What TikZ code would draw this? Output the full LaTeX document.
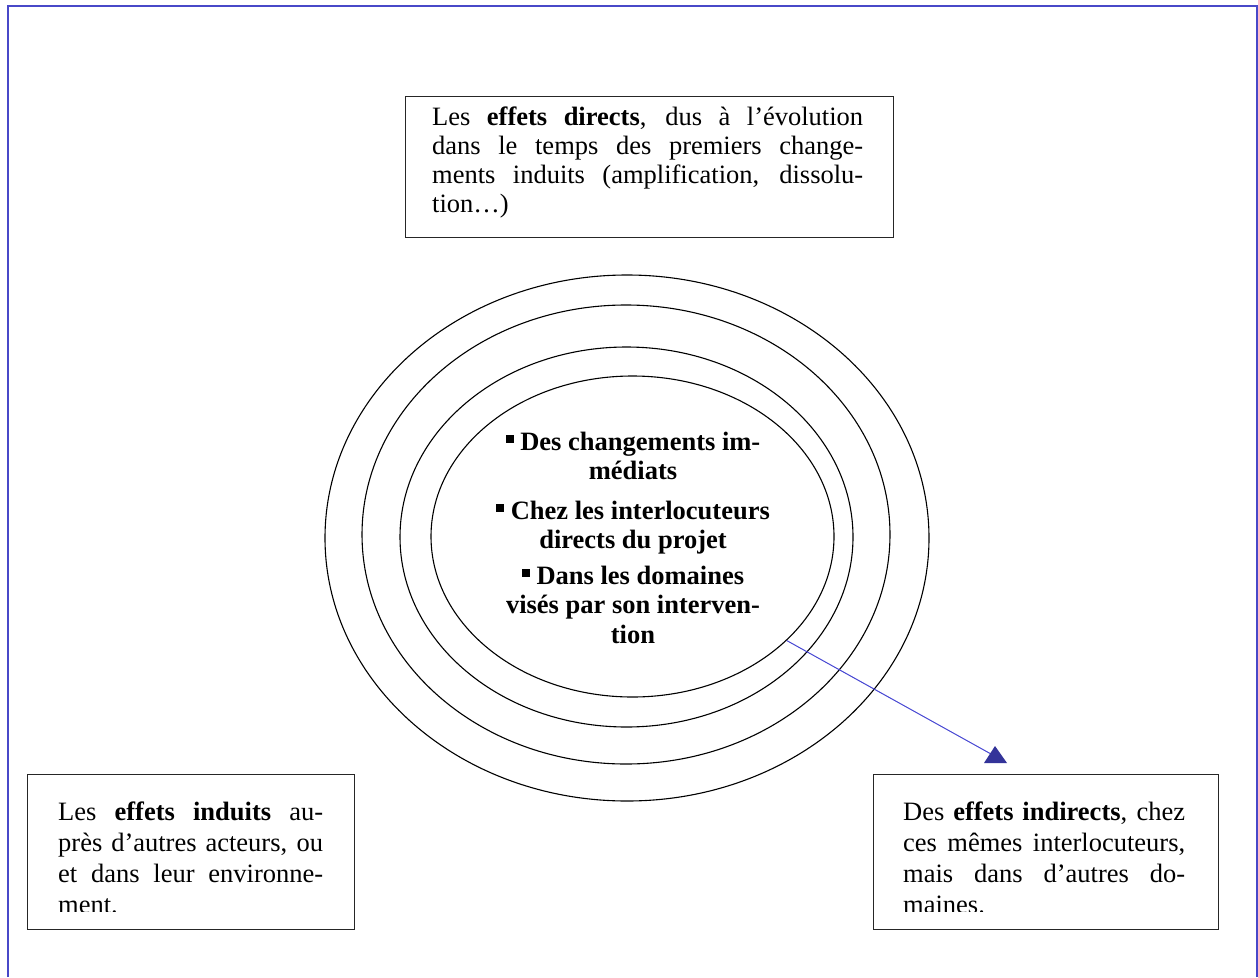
\documentclass[tikz,border=0pt]{standalone}
\usepackage{fontspec}
\setmainfont{Liberation Serif}
\usetikzlibrary{shapes.geometric,calc}
\definecolor{framecol}{RGB}{72,72,200}
\definecolor{arrowcol}{RGB}{51,51,153}
\definecolor{linecol}{RGB}{70,70,210}
\newcommand{\jline}[2]{\leavevmode\hbox to #1{\spaceskip=0pt\xspaceskip=0pt #2}\\}
\newcommand{\sqb}{\raisebox{7pt}{\rule{8pt}{8pt}}}
\begin{document}
\begin{tikzpicture}[x=1pt,y=1pt,
  ring/.style={ellipse,draw,line width=1.1pt,inner sep=0pt},
  textbox/.style={rectangle,draw=black!85,line width=1.4pt,inner sep=0pt,anchor=north west},
  boxtext/.style={anchor=base west,inner sep=0pt,align=left,font=\fontsize{26.5}{29.3}\selectfont},
  lowtext/.style={boxtext,font=\fontsize{26.5}{31}\selectfont},
  centertext/.style={anchor=base,inner sep=0pt,align=center,font=\fontsize{26.5}{29.5}\selectfont\bfseries}]
\useasboundingbox (0,0) rectangle (1258,-977);
% outer frame
\draw[framecol,line width=1.5pt] (8,-977) -- (8,-6) -- (1257,-6) -- (1257,-977);
% rings
\node[ring,minimum width=604pt,minimum height=526pt] (e4) at (627,-538) {};
\node[ring,minimum width=528pt,minimum height=459pt] (e3) at (626,-534.5) {};
\node[ring,minimum width=453pt,minimum height=380pt] (e2) at (626.5,-537) {};
\node[ring,minimum width=403pt,minimum height=321pt] (e1) at (632.5,-536.5) {};
\node[centertext] (ctext) at (633,-643) {\sqb\ Des changements im-\\ médiats\\[10pt] \sqb\ Chez les interlocuteurs\\ directs du projet\\[6pt] \sqb\ Dans les domaines\\ visés par son interven-\\ tion};
% top box
\node[textbox,minimum width=488pt,minimum height=141pt] (topbox) at (405,-96) {};
\node[boxtext,text width=431pt] (toptext) at (432,-125) {\jline{431pt}{Les \textbf{effets directs}, dus à l’évolution}\jline{431pt}{dans le temps des premiers change-}\jline{431pt}{ments induits (amplification, dissolu-}tion…)};
% left box
\node[textbox,minimum width=327pt,minimum height=155pt] (leftbox) at (27,-774) {};
\begin{scope}
\clip (leftbox.north west) rectangle ($(leftbox.south east)+(0,19)$);
\node[lowtext,text width=265pt] (lefttext) at (58,-820) {\jline{265pt}{Les \textbf{effets induits} au-}\jline{265pt}{près d’autres acteurs, ou}\jline{265pt}{et dans leur environne-}ment.};
\end{scope}
% right box
\node[textbox,minimum width=345pt,minimum height=155pt] (rightbox) at (873,-774) {};
\begin{scope}
\clip (rightbox.north west) rectangle ($(rightbox.south east)+(0,19)$);
\node[lowtext,text width=282pt] (righttext) at (903,-820) {\jline{282pt}{Des \textbf{effets indirects}, chez}\jline{282pt}{ces mêmes interlocuteurs,}\jline{282pt}{mais dans d’autres do-}maines.};
\end{scope}
% arrow
\coordinate (tip) at (991,-754);
\draw[linecol,line width=1pt] (e1.-34.8) -- (tip);
\fill[arrowcol] (995,-746) -- (1007,-763) -- (984,-763) -- cycle;
\end{tikzpicture}
\end{document}
